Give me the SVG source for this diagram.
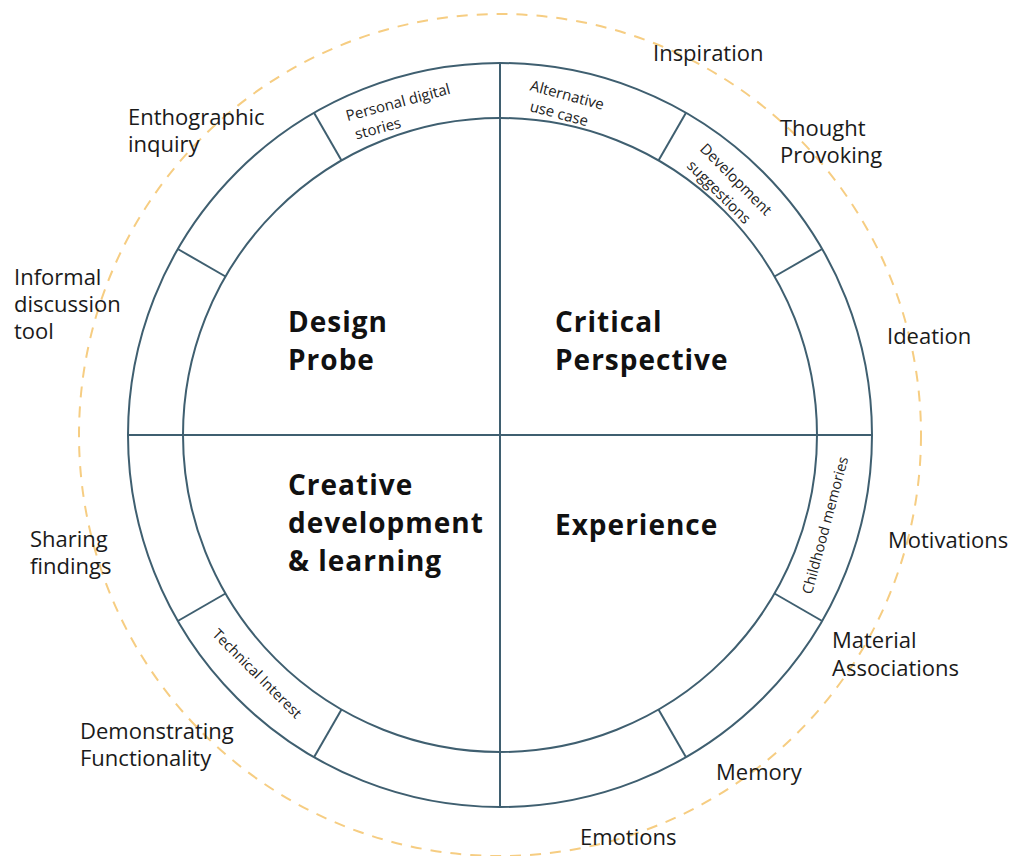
<svg xmlns="http://www.w3.org/2000/svg" width="1011" height="856" viewBox="0 0 1011 856">
<style>
.ring{fill:none;stroke:#3f5f70;stroke-width:2}
.div{stroke:#3f5f70;stroke-width:2}
.dash{fill:none;stroke:#f6cd82;stroke-width:2;stroke-dasharray:11 9}
.lbl{font-family:"Open Sans","Liberation Sans",sans-serif;font-size:22px;fill:#1a1a1a}
.big{font-family:"Open Sans","Liberation Sans",sans-serif;font-size:28px;font-weight:700;fill:#111;letter-spacing:1px}
.sm{font-family:"Open Sans","Liberation Sans",sans-serif;font-size:15px;fill:#222}
</style>
<rect width="1011" height="856" fill="#fff"/>
<g id="dashed-ring"><circle class="dash" cx="500" cy="435" r="421"/></g>
<g id="wheel">
<circle class="ring" cx="500" cy="435" r="372"/>
<circle class="ring" cx="500" cy="435" r="317"/>
</g>
<g id="connectors">
<line class="div" x1="128" y1="435" x2="872" y2="435"/>
<line class="div" x1="500" y1="63" x2="500" y2="807"/>
<line class="div" x1="686" y1="112.8" x2="658.5" y2="160.5"/>
<line class="div" x1="822.2" y1="249" x2="774.5" y2="276.5"/>
<line class="div" x1="822.2" y1="621" x2="774.5" y2="593.5"/>
<line class="div" x1="686" y1="757.2" x2="658.5" y2="709.5"/>
<line class="div" x1="314" y1="757.2" x2="341.5" y2="709.5"/>
<line class="div" x1="177.8" y1="621" x2="225.5" y2="593.5"/>
<line class="div" x1="177.8" y1="249" x2="225.5" y2="276.5"/>
<line class="div" x1="314" y1="112.8" x2="341.5" y2="160.5"/>
</g>
<g id="quadrant-design-probe"><text class="big" x="288" y="332">Design</text><text class="big" x="288" y="370">Probe</text></g>
<g id="quadrant-critical-perspective"><text class="big" x="555" y="332">Critical</text><text class="big" x="555" y="370">Perspective</text></g>
<g id="quadrant-creative"><text class="big" x="288" y="495">Creative</text><text class="big" x="288" y="533">development</text><text class="big" x="288" y="571">&amp; learning</text></g>
<g id="quadrant-experience"><text class="big" x="555" y="535">Experience</text></g>
<g id="seg-personal" transform="translate(410.8,102.2) rotate(-15)"><text class="sm" x="-66" y="2">Personal digital</text><text class="sm" x="-62" y="22">stories</text></g>
<g id="seg-alternative" transform="translate(589.2,102.2) rotate(15)"><text class="sm" x="-61" y="4">Alternative</text><text class="sm" x="-56" y="24">use case</text></g>
<g id="seg-development" transform="translate(743.6,191.4) rotate(45)"><text class="sm" x="-14" y="2" text-anchor="middle">Development</text><text class="sm" x="-17" y="23" text-anchor="middle">suggestions</text></g>
<g id="seg-childhood" transform="translate(832.8,524.2) rotate(-75)"><text class="sm" x="-3" y="-2" text-anchor="middle" style="font-size:14.5px">Childhood memories</text></g>
<g id="seg-technical" transform="translate(256.4,678.6) rotate(45)"><text class="sm" x="-3" y="1" text-anchor="middle" style="font-size:14.5px">Technical Interest</text></g>
<g id="label-inspiration"><text class="lbl" x="653" y="61">Inspiration</text></g>
<g id="label-thought"><text class="lbl" x="780" y="136">Thought</text><text class="lbl" x="780" y="163">Provoking</text></g>
<g id="label-ideation"><text class="lbl" x="887" y="344">Ideation</text></g>
<g id="label-motivations"><text class="lbl" x="888" y="548">Motivations</text></g>
<g id="label-material"><text class="lbl" x="832" y="648">Material</text><text class="lbl" x="832" y="676">Associations</text></g>
<g id="label-memory"><text class="lbl" x="716" y="780">Memory</text></g>
<g id="label-emotions"><text class="lbl" x="580" y="845">Emotions</text></g>
<g id="label-demonstrating"><text class="lbl" x="80" y="739">Demonstrating</text><text class="lbl" x="80" y="766">Functionality</text></g>
<g id="label-sharing"><text class="lbl" x="30" y="547">Sharing</text><text class="lbl" x="30" y="574">findings</text></g>
<g id="label-informal"><text class="lbl" x="14" y="285">Informal</text><text class="lbl" x="14" y="312">discussion</text><text class="lbl" x="14" y="339">tool</text></g>
<g id="label-enthographic"><text class="lbl" x="128" y="125">Enthographic</text><text class="lbl" x="128" y="152">inquiry</text></g>
</svg>
